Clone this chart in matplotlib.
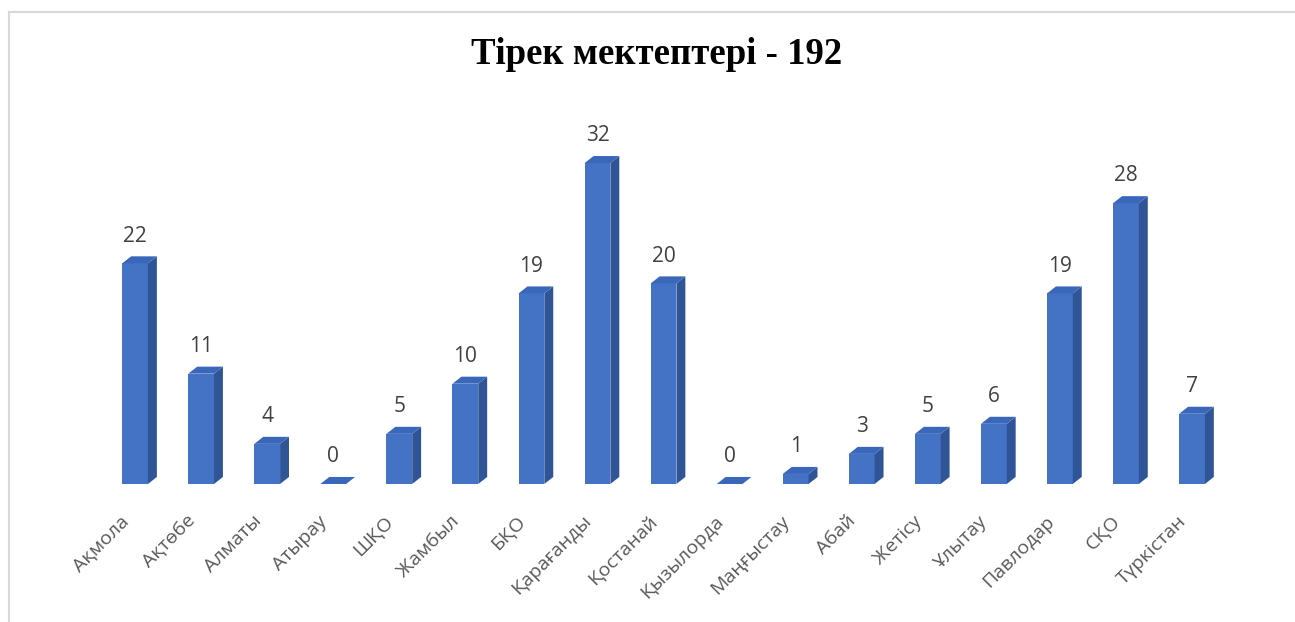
import matplotlib.pyplot as plt
from matplotlib.patches import Polygon
from matplotlib.lines import Line2D
from matplotlib.transforms import ScaledTranslation

# data
regions = ["Ақмола", "Ақтөбе", "Алматы", "Атырау", "ШҚО", "Жамбыл", "БҚО",
           "Қарағанды", "Қостанай", "Қызылорда", "Маңғыстау", "Абай", "Жетісу",
           "Ұлытау", "Павлодар", "СҚО", "Түркістан"]
schools = [22, 11, 4, 0, 5, 10, 19, 32, 20, 0, 1, 3, 5, 6, 19, 28, 7]
title = "Тірек мектептері - 192"

plt.rcParams['font.family'] = ['Open Sans', 'DejaVu Sans']

front = "#4472C4"
side = "#2F5597"
top = "#3A67BA"

fig = plt.figure(figsize=(12.95, 6.22), dpi=100)
ax = fig.add_axes([0.0788, 0.2219, 0.8672, 0.5643])

width = 0.39
dx = 0.135   # depth of the fake 3d box, x in category units
dy = 0.7     # depth, y in value units

x = list(range(len(regions)))
bars = ax.bar(x, schools, width=width, color=front, zorder=3)

for b, v in zip(bars, schools):
    x0 = b.get_x()
    x1 = x0 + b.get_width()
    ax.add_patch(Polygon([(x1, 0), (x1 + dx, dy), (x1 + dx, v + dy), (x1, v)],
                         closed=True, facecolor=side, edgecolor="none", zorder=3))
    ax.add_patch(Polygon([(x0, v), (x1, v), (x1 + dx, v + dy), (x0 + dx, v + dy)],
                         closed=True, facecolor=top, edgecolor="none", zorder=4))
    ax.annotate(str(v), (x0 + (x1 - x0) / 2, v + dy), xytext=(0, 7),
                textcoords="offset points", ha="center", va="bottom",
                fontsize=15, color="#404040")

ax.set_xlim(-0.5, len(regions) - 0.5)
ax.set_ylim(0, 35)
ax.set_xticks(x)
ax.set_xticklabels(regions, rotation=45, ha="right", rotation_mode="anchor",
                   fontsize=14, color="#595959")
ax.tick_params(axis="x", length=0, pad=8)
# shift the slanted labels down-left a bit, like in the original
shift = ScaledTranslation(-0.15, -0.17, fig.dpi_scale_trans)
for lab in ax.get_xticklabels():
    lab.set_transform(lab.get_transform() + shift)
ax.set_yticks([])
for s in ax.spines.values():
    s.set_visible(False)

fig.text(0.507, 0.912, title, ha="center", va="center", fontsize=26.5,
         fontweight="bold", family="Liberation Serif", color="black")

# light frame around the chart area (only top and left visible)
fig.add_artist(Line2D([9 / 1295, 1], [1 - 12 / 622, 1 - 12 / 622],
                      color="#D9D9D9", lw=1.5, transform=fig.transFigure))
fig.add_artist(Line2D([9 / 1295, 9 / 1295], [0, 1 - 12 / 622],
                      color="#D9D9D9", lw=1.5, transform=fig.transFigure))

fig.savefig("out.png", dpi=100)
